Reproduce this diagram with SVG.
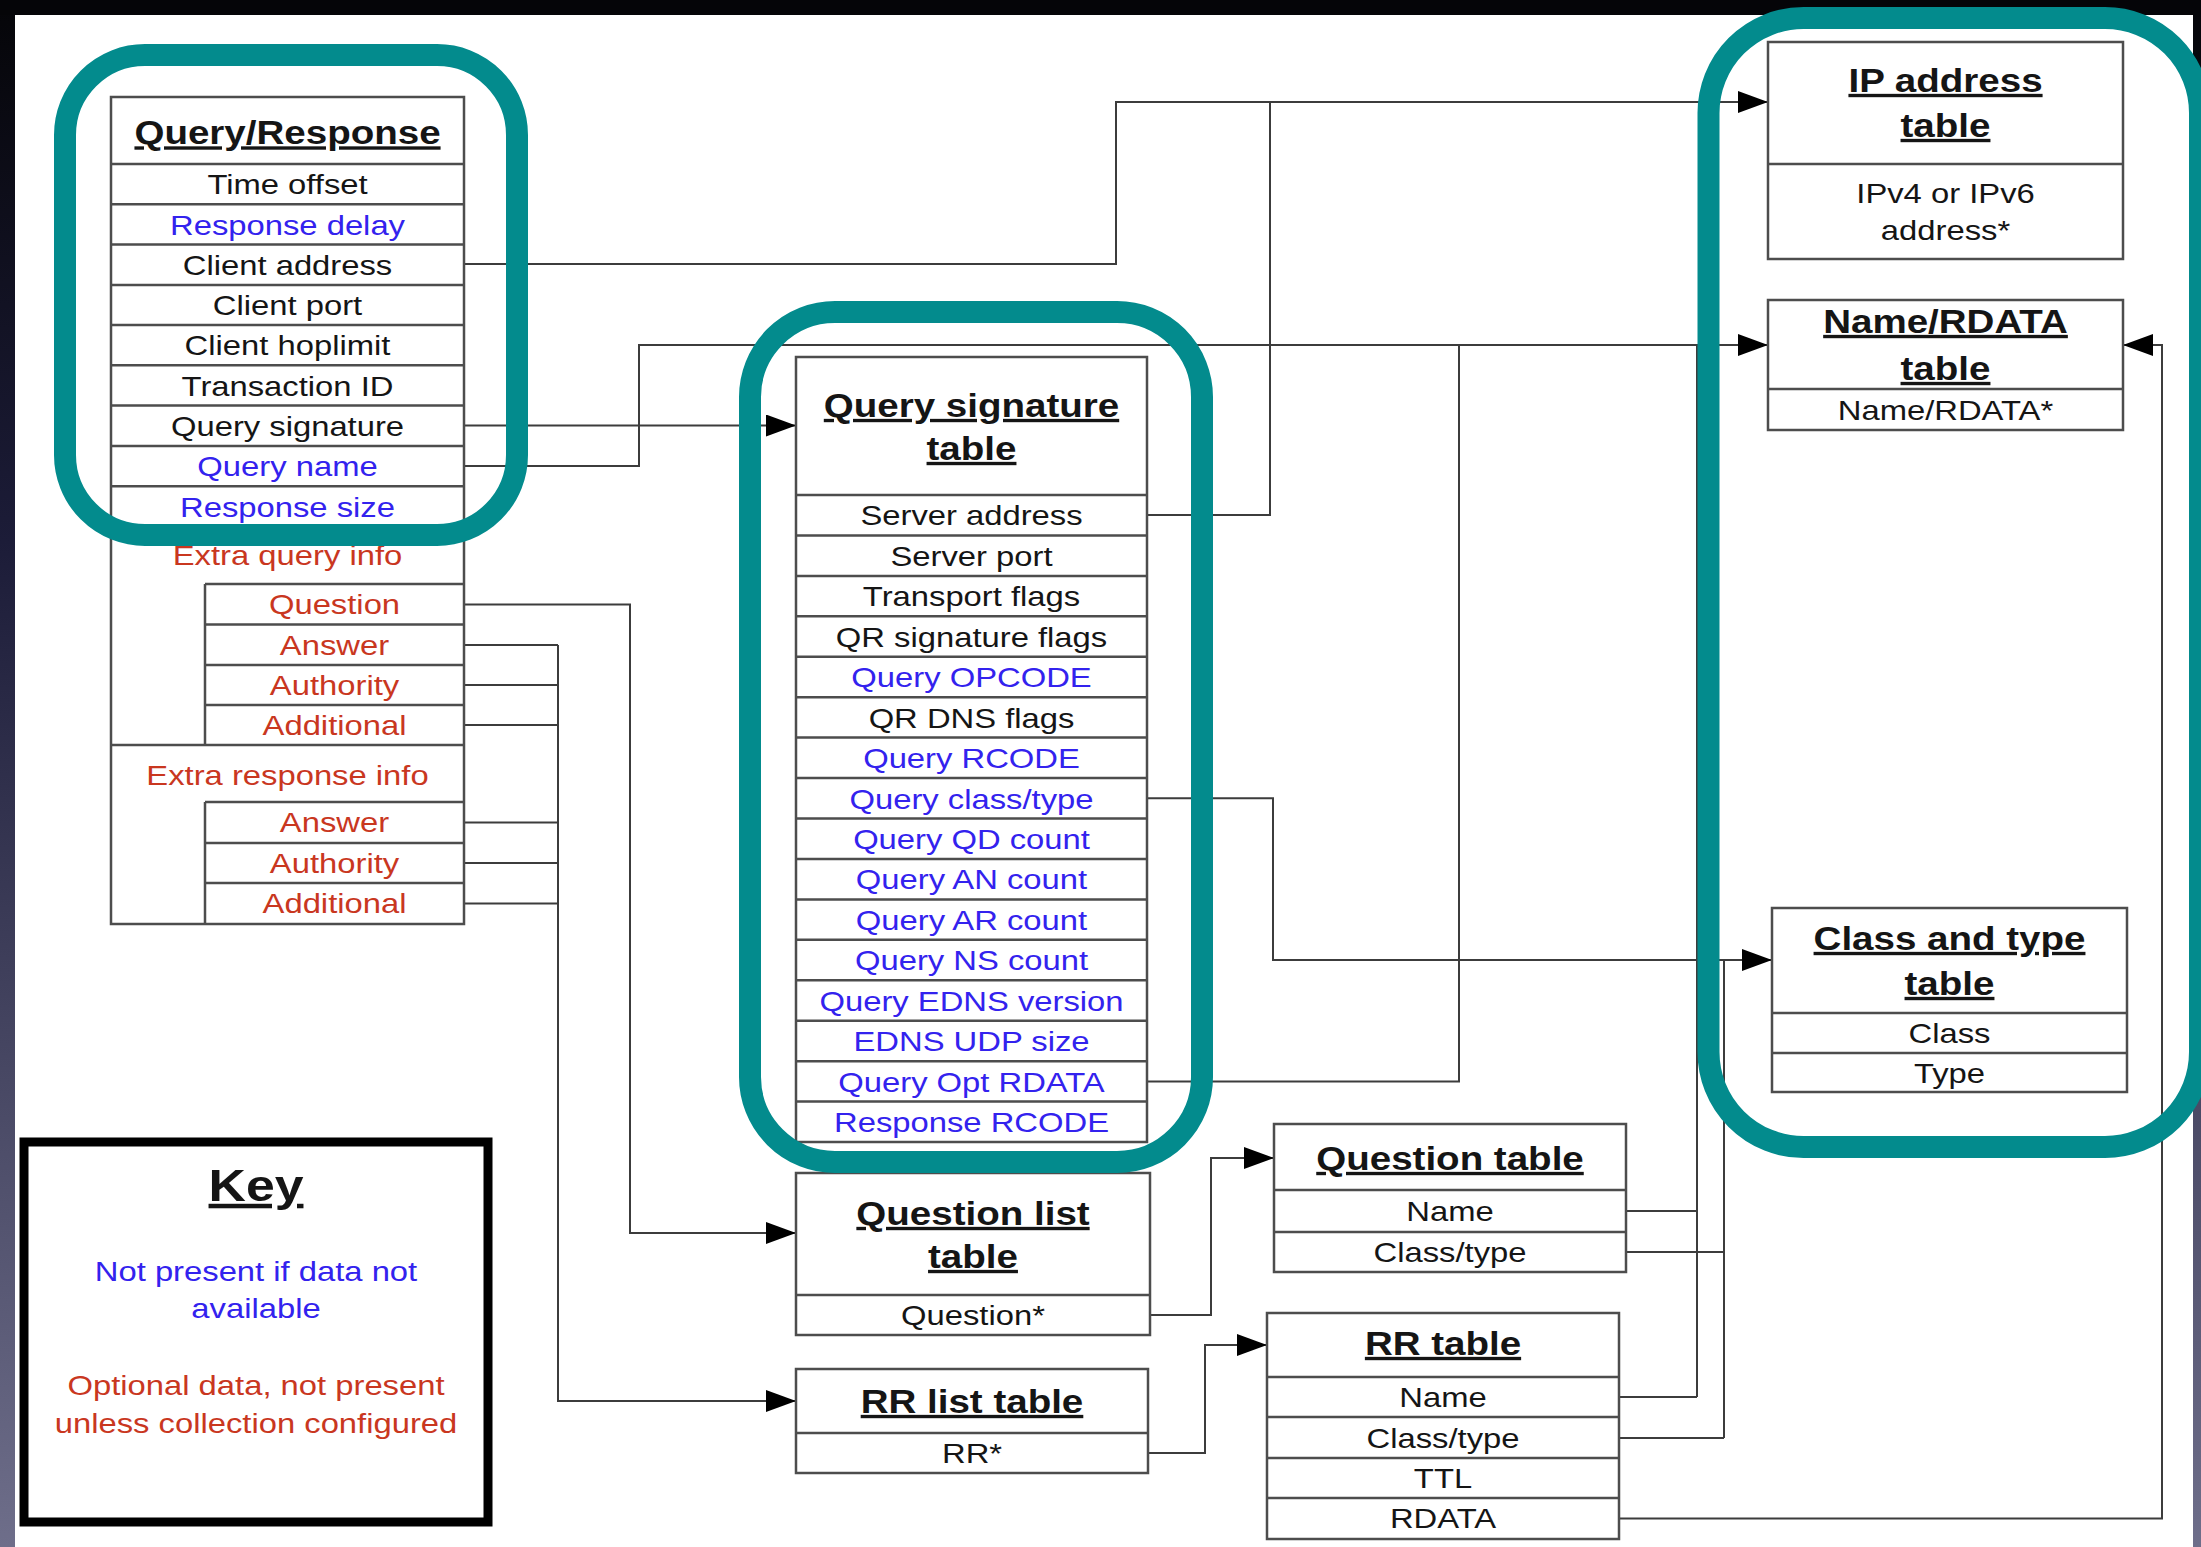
<svg xmlns="http://www.w3.org/2000/svg" width="2201" height="1547" viewBox="0 0 2201 1547">
  <defs>
    <linearGradient id="frame" x1="0" y1="0" x2="0" y2="1">
      <stop offset="0" stop-color="#050508"/>
      <stop offset="0.35" stop-color="#1c1c38"/>
      <stop offset="1" stop-color="#6e6e8a"/>
    </linearGradient>
    <marker id="arrow" markerUnits="userSpaceOnUse" markerWidth="31" markerHeight="22" refX="30" refY="11" orient="auto">
      <path d="M0,0 L30,11 L0,22 z" fill="#000"/>
    </marker>
    <style>
      .t { font-family: "Liberation Sans", Arial, sans-serif; font-size: 28.5px; fill: #151515; text-anchor: middle; }
      .h { font-weight: bold; font-size: 33.5px; text-decoration: underline; }
      .k { font-weight: bold; font-size: 45px; text-decoration: underline; }
      .bl { fill: #3322ee; }
      .rd { fill: #c9371f; }
      .box { fill: #fff; stroke: #4d4d4d; stroke-width: 2.5; }
      .ln { stroke: #4d4d4d; stroke-width: 2.5; fill: none; }
      .cn { fill: none; stroke: #3c3c3c; stroke-width: 2; }
      .arr { marker-end: url(#arrow); }
      .teal { fill: none; stroke: #038b8d; stroke-width: 22; }
      .key { fill: #fff; stroke: #000; stroke-width: 9; }
    </style>
  </defs>

  <!-- page and dark surround -->
  <rect x="0" y="0" width="2201" height="1547" fill="url(#frame)"/>
  <rect x="0" y="0" width="2201" height="15" fill="#050508"/>
  <rect x="15" y="15" width="2178" height="1532" fill="#fff"/>

  <!-- connectors -->
  <g id="connectors">
    <path class="cn arr" d="M464,264 H1116 V102 H1768"/>
    <path class="cn" d="M1147,515 H1270 V102"/>
    <path class="cn arr" d="M464,425.5 H796"/>
    <path class="cn arr" d="M464,466 H639 V345 H1768"/>
    <path class="cn" d="M1147,1081.5 H1459 V345"/>
    <path class="cn arr" d="M1147,798.3 H1273 V960 H1772"/>
    <path class="cn arr" d="M464,604.5 H630 V1233 H796"/>
    <path class="cn" d="M464,645 H558 M464,685 H558 M464,725 H558 M464,822.5 H558 M464,863 H558 M464,903.5 H558"/>
    <path class="cn arr" d="M558,645 V1401 H796"/>
    <path class="cn arr" d="M1150,1315 H1211 V1158 H1274"/>
    <path class="cn arr" d="M1148,1453 H1205 V1345 H1267"/>
    <path class="cn" d="M1626,1211 H1697 M1619,1397 H1697 M1697,1397 V345"/>
    <path class="cn" d="M1626,1252 H1724 M1619,1438 H1724 M1724,1438 V960"/>
    <path class="cn arr" d="M1619,1518.5 H2162 V345 H2123"/>
  </g>

  <!-- Query/Response table -->
  <g id="query-response">
    <rect class="box" x="111" y="97" width="353" height="827"/>
    <path class="ln" d="M111,164 H464 M111,204.3 H464 M111,244.6 H464 M111,285 H464 M111,325 H464 M111,365.3 H464 M111,405.6 H464 M111,446 H464 M111,486.3 H464 M111,526.6 H464 M111,745 H464"/>
    <path class="ln" d="M205,584 H464 M205,624.5 H464 M205,665 H464 M205,705 H464 M205,802 H464 M205,843 H464 M205,883 H464 M205,584 V745 M205,802 V924"/>
    <g transform="translate(287.5 0) scale(1.15 1)">
      <text class="t h" x="0" y="144.5">Query/Response</text>
      <text class="t" x="0" y="194.5">Time offset</text>
      <text class="t bl" x="0" y="234.8">Response delay</text>
      <text class="t" x="0" y="275.1">Client address</text>
      <text class="t" x="0" y="315.5">Client port</text>
      <text class="t" x="0" y="355.5">Client hoplimit</text>
      <text class="t" x="0" y="395.8">Transaction ID</text>
      <text class="t" x="0" y="436.1">Query signature</text>
      <text class="t bl" x="0" y="476.5">Query name</text>
      <text class="t bl" x="0" y="516.8">Response size</text>
      <text class="t rd" x="0" y="565">Extra query info</text>
      <text class="t rd" x="0" y="785">Extra response info</text>
    </g>
    <g transform="translate(334.5 0) scale(1.15 1)">
      <text class="t rd" x="0" y="614.5">Question</text>
      <text class="t rd" x="0" y="655">Answer</text>
      <text class="t rd" x="0" y="695.5">Authority</text>
      <text class="t rd" x="0" y="735.5">Additional</text>
      <text class="t rd" x="0" y="832.5">Answer</text>
      <text class="t rd" x="0" y="873.5">Authority</text>
      <text class="t rd" x="0" y="913.5">Additional</text>
    </g>
  </g>

  <!-- Query signature table -->
  <g id="query-signature-table">
    <rect class="box" x="796" y="357" width="351" height="785"/>
    <path class="ln" d="M796,495 H1147 M796,535.4 H1147 M796,575.9 H1147 M796,616.3 H1147 M796,656.8 H1147 M796,697.2 H1147 M796,737.6 H1147 M796,778.1 H1147 M796,818.5 H1147 M796,859 H1147 M796,899.4 H1147 M796,939.8 H1147 M796,980.3 H1147 M796,1020.7 H1147 M796,1061.2 H1147 M796,1101.6 H1147"/>
    <g transform="translate(971.5 0) scale(1.15 1)">
      <text class="t h" x="0" y="417">Query signature</text>
      <text class="t h" x="0" y="460">table</text>
      <text class="t" x="0" y="525.5">Server address</text>
      <text class="t" x="0" y="565.9">Server port</text>
      <text class="t" x="0" y="606.4">Transport flags</text>
      <text class="t" x="0" y="646.8">QR signature flags</text>
      <text class="t bl" x="0" y="687.3">Query OPCODE</text>
      <text class="t" x="0" y="727.7">QR DNS flags</text>
      <text class="t bl" x="0" y="768.1">Query RCODE</text>
      <text class="t bl" x="0" y="808.6">Query class/type</text>
      <text class="t bl" x="0" y="849">Query QD count</text>
      <text class="t bl" x="0" y="889.5">Query AN count</text>
      <text class="t bl" x="0" y="929.9">Query AR count</text>
      <text class="t bl" x="0" y="970.3">Query NS count</text>
      <text class="t bl" x="0" y="1010.8">Query EDNS version</text>
      <text class="t bl" x="0" y="1051.2">EDNS UDP size</text>
      <text class="t bl" x="0" y="1091.7">Query Opt RDATA</text>
      <text class="t bl" x="0" y="1132.1">Response RCODE</text>
    </g>
  </g>

  <!-- IP address table -->
  <g id="ip-address-table">
    <rect class="box" x="1768" y="42" width="355" height="217"/>
    <path class="ln" d="M1768,164 H2123"/>
    <g transform="translate(1945.5 0) scale(1.15 1)">
      <text class="t h" x="0" y="92">IP address</text>
      <text class="t h" x="0" y="137">table</text>
      <text class="t" x="0" y="203">IPv4 or IPv6</text>
      <text class="t" x="0" y="240">address*</text>
    </g>
  </g>

  <!-- Name/RDATA table -->
  <g id="name-rdata-table">
    <rect class="box" x="1768" y="300" width="355" height="130"/>
    <path class="ln" d="M1768,389 H2123"/>
    <g transform="translate(1945.5 0) scale(1.15 1)">
      <text class="t h" x="0" y="333">Name/RDATA</text>
      <text class="t h" x="0" y="380">table</text>
      <text class="t" x="0" y="420">Name/RDATA*</text>
    </g>
  </g>

  <!-- Class and type table -->
  <g id="class-type-table">
    <rect class="box" x="1772" y="908" width="355" height="184"/>
    <path class="ln" d="M1772,1013 H2127 M1772,1053 H2127"/>
    <g transform="translate(1949.5 0) scale(1.15 1)">
      <text class="t h" x="0" y="950">Class and type</text>
      <text class="t h" x="0" y="995">table</text>
      <text class="t" x="0" y="1043">Class</text>
      <text class="t" x="0" y="1083">Type</text>
    </g>
  </g>

  <!-- Question list table -->
  <g id="question-list-table">
    <rect class="box" x="796" y="1173" width="354" height="162"/>
    <path class="ln" d="M796,1295 H1150"/>
    <g transform="translate(973 0) scale(1.15 1)">
      <text class="t h" x="0" y="1225">Question list</text>
      <text class="t h" x="0" y="1268">table</text>
      <text class="t" x="0" y="1325">Question*</text>
    </g>
  </g>

  <!-- RR list table -->
  <g id="rr-list-table">
    <rect class="box" x="796" y="1369" width="352" height="104"/>
    <path class="ln" d="M796,1433 H1148"/>
    <g transform="translate(972 0) scale(1.15 1)">
      <text class="t h" x="0" y="1413">RR list table</text>
      <text class="t" x="0" y="1463">RR*</text>
    </g>
  </g>

  <!-- Question table -->
  <g id="question-table">
    <rect class="box" x="1274" y="1124" width="352" height="148"/>
    <path class="ln" d="M1274,1190 H1626 M1274,1232 H1626"/>
    <g transform="translate(1450 0) scale(1.15 1)">
      <text class="t h" x="0" y="1170">Question table</text>
      <text class="t" x="0" y="1221.5">Name</text>
      <text class="t" x="0" y="1262.5">Class/type</text>
    </g>
  </g>

  <!-- RR table -->
  <g id="rr-table">
    <rect class="box" x="1267" y="1313" width="352" height="226"/>
    <path class="ln" d="M1267,1377 H1619 M1267,1417 H1619 M1267,1458 H1619 M1267,1498 H1619"/>
    <g transform="translate(1443 0) scale(1.15 1)">
      <text class="t h" x="0" y="1355">RR table</text>
      <text class="t" x="0" y="1407">Name</text>
      <text class="t" x="0" y="1448">Class/type</text>
      <text class="t" x="0" y="1488">TTL</text>
      <text class="t" x="0" y="1528.5">RDATA</text>
    </g>
  </g>

  <!-- teal highlight frames -->
  <g id="highlights">
    <rect class="teal" x="65" y="55" width="452" height="480" rx="80"/>
    <rect class="teal" x="750" y="312" width="452" height="850" rx="85"/>
    <rect class="teal" x="1708.5" y="18" width="491.5" height="1129" rx="95"/>
  </g>

  <!-- key -->
  <g id="key">
    <rect class="key" x="24" y="1142" width="464" height="380"/>
    <g transform="translate(256 0) scale(1.15 1)">
      <text class="t k" x="0" y="1201">Key</text>
      <text class="t bl" x="0" y="1281.5">Not present if data not</text>
      <text class="t bl" x="0" y="1318">available</text>
      <text class="t rd" x="0" y="1395">Optional data, not present</text>
      <text class="t rd" x="0" y="1433">unless collection configured</text>
    </g>
  </g>
</svg>
